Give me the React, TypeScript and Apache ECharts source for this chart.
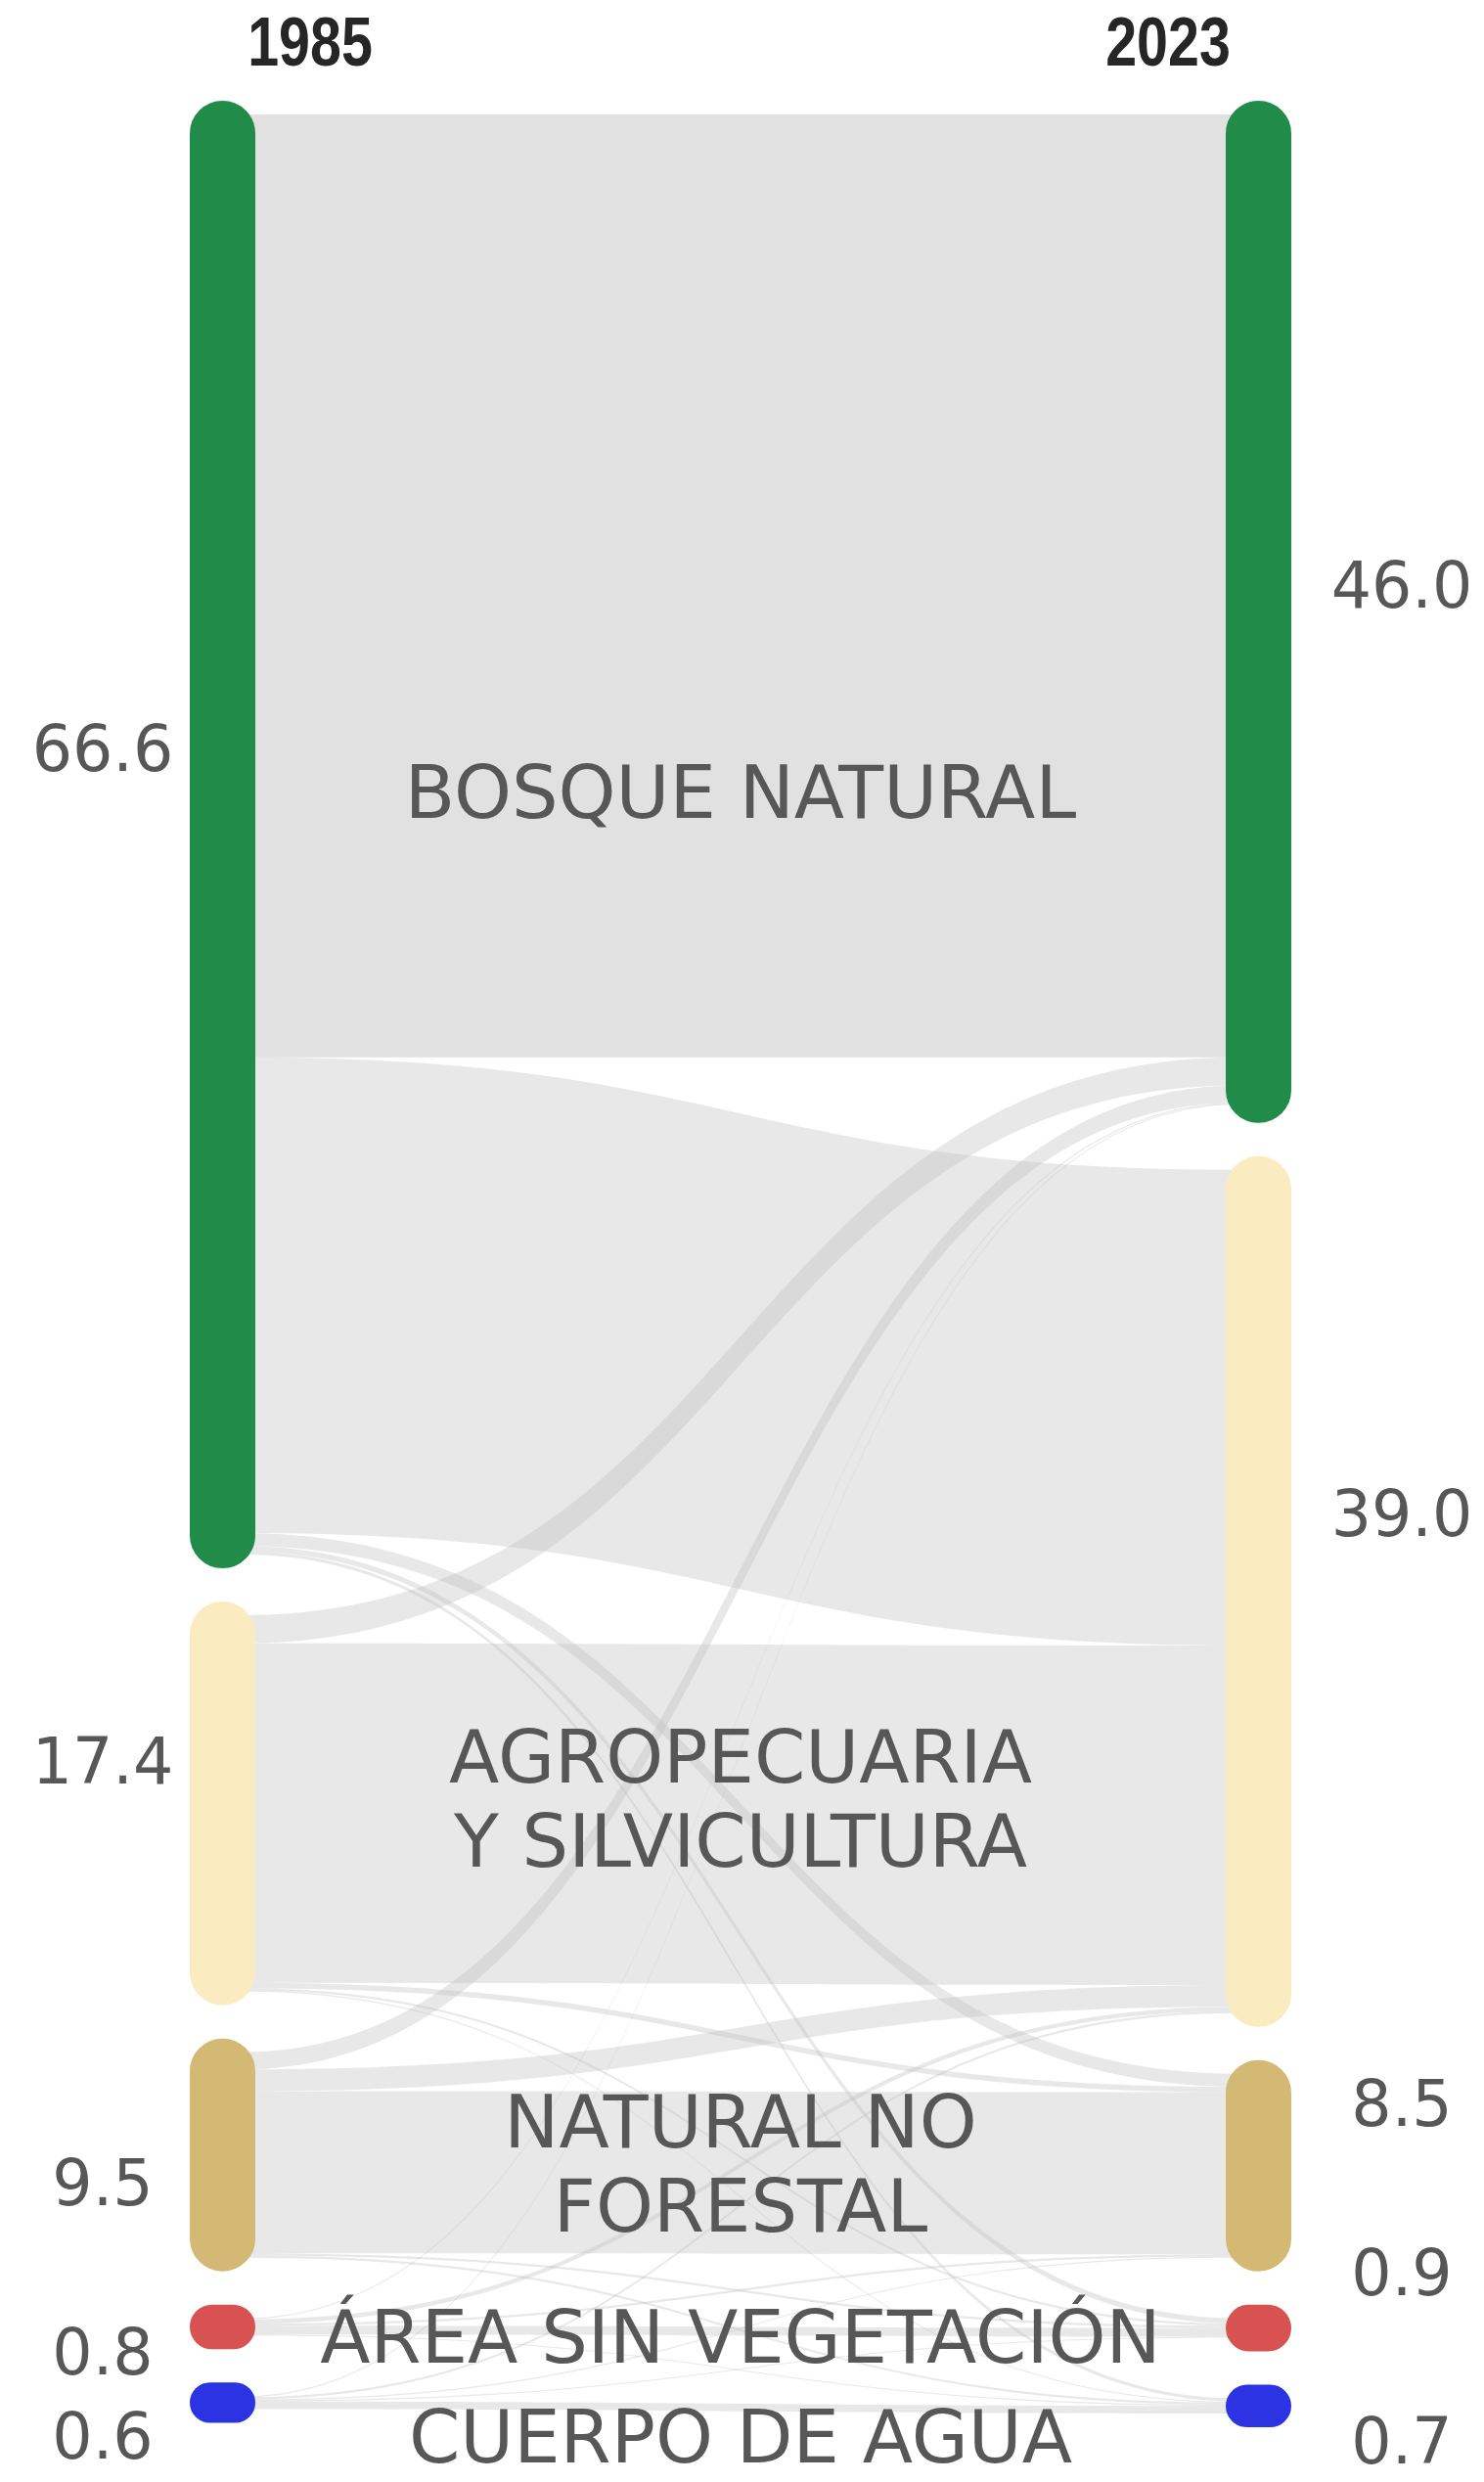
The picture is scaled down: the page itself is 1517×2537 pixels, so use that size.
import React, { useEffect, useRef } from 'react';
import * as echarts from 'echarts';

// ---- data ----
const years = ['1985', '2023'];
const categories = [
  'BOSQUE NATURAL',
  'AGROPECUARIA\nY SILVICULTURA',
  'NATURAL NO\nFORESTAL',
  'ÁREA SIN VEGETACIÓN',
  'CUERPO DE AGUA',
];
const values1985 = [66.6, 17.4, 9.5, 0.8, 0.6];
const values2023 = [46.0, 39.0, 8.5, 0.9, 0.7];
// flows from each 1985 class to the 2023 classes (same order as categories)
const fromBosque = [43.6, 22.0, 0.6, 0.25, 0.15];
const fromAgro = [1.3, 15.7, 0.25, 0.1, 0.05];
const fromNatural = [0.8, 1.0, 7.5, 0.1, 0.1];
const fromSinVeg = [0.05, 0.2, 0.1, 0.4, 0.05];
const fromAgua = [0.05, 0.1, 0.05, 0.05, 0.35];
const flows = [fromBosque, fromAgro, fromNatural, fromSinVeg, fromAgua];

// ---- styles ----
const nodeColors = ['#218c4a', '#faebc1', '#d3b974', '#d95252', '#2b33e2'];
const leftLabelDy = [-88, -43, 29, 26, 35];
const rightLabelDy = [-27, -79, -63, -56, 36];
const nameDy = [-43, -4, 9, 11, 35];
const TEXT = '#575757';
const FONT = '"DejaVu Sans", "Open Sans", sans-serif';
const YEAR_FONT = 'bold 70px "Liberation Sans", Arial, sans-serif';

export default function App() {
  const ref = useRef<HTMLDivElement>(null);
  useEffect(() => {
    const chart = echarts.init(ref.current!, null, { renderer: 'svg' });
    const nodes: any[] = [];
    const border = 28;
    categories.forEach((c, i) => {
      nodes.push({
        name: years[0] + '|' + c,
        value: values1985[i],
        itemStyle: { color: nodeColors[i], borderColor: nodeColors[i], borderWidth: border, borderRadius: 19.5 },
        label: { position: 'left', distance: 89, align: 'center', offset: [0, leftLabelDy[i]] },
      });
    });
    categories.forEach((c, i) => {
      nodes.push({
        name: years[1] + '|' + c,
        value: values2023[i],
        itemStyle: { color: nodeColors[i], borderColor: nodeColors[i], borderWidth: border, borderRadius: 19.5 },
        label: { position: 'right', distance: 113, align: 'center', offset: [0, rightLabelDy[i]] },
      });
    });
    const links: any[] = [];
    flows.forEach((row, i) => {
      row.forEach((v, j) => {
        links.push({
          source: years[0] + '|' + categories[i],
          target: years[1] + '|' + categories[j],
          value: v,
          lineStyle: { opacity: i === 0 && j === 0 ? 0.45 : 0.35 },
        });
      });
    });

    chart.setOption({
      animation: false,
      backgroundColor: '#ffffff',
      graphic: [
        {
          type: 'text', id: 'y0', x: 317, y: 43, scaleX: 0.82,
          style: { text: years[0], font: YEAR_FONT, fill: '#262626', align: 'center', verticalAlign: 'middle' },
        },
        {
          type: 'text', id: 'y1', x: 1194, y: 43, scaleX: 0.82,
          style: { text: years[1], font: YEAR_FONT, fill: '#262626', align: 'center', verticalAlign: 'middle' },
        },
      ],
      series: [
        {
          type: 'sankey',
          left: 208,
          right: 211,
          top: 117,
          bottom: 70,
          nodeWidth: 39,
          nodeGap: 62,
          layoutIterations: 0,
          draggable: false,
          emphasis: { disabled: true },
          data: nodes,
          links: links,
          lineStyle: { color: '#bdbdbd', opacity: 0.35, curveness: 0.5 },
          label: {
            show: true,
            color: TEXT,
            fontFamily: FONT,
            fontSize: 65,
            formatter: (p: any) => Number(p.value).toFixed(1),
          },
        },
      ],
    });

    try {
      const series = (chart as any).getModel().getSeriesByIndex(0);
      const data = series.getData();
      const rect = series.layoutInfo;
      const cx = rect.x + rect.width / 2;
      const g: any[] = [];
      categories.forEach((c, i) => {
        const l = data.getItemLayout(i);
        const cy = rect.y + l.y + l.dy / 2 + nameDy[i];
        g.push({
          type: 'text', id: 'n' + i, x: cx, y: cy, z: 100,
          style: { text: c, fontFamily: FONT, fontSize: 75, lineHeight: 86, fill: TEXT, align: 'center', verticalAlign: 'middle' },
        });
      });
      chart.setOption({ graphic: g });
    } catch (e) {
      // ignore
    }

    return () => chart.dispose();
  }, []);
  return <div ref={ref} style={{ position: 'absolute', left: 0, top: 0, width: 1517, height: 2537 }} />;
}
